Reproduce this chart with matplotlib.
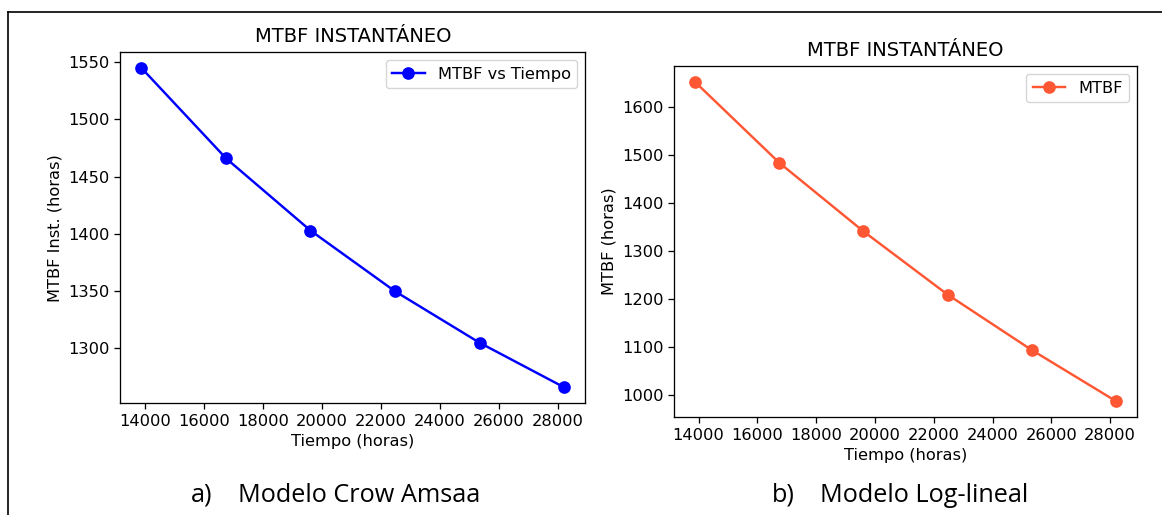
import matplotlib
matplotlib.use("Agg")
import matplotlib.pyplot as plt
from matplotlib.lines import Line2D

# ---------------- datos ----------------
tiempo_ca = [13880, 16750, 19610, 22470, 25340, 28210]
mtbf_ca   = [1545, 1466, 1403, 1350, 1305, 1266]

tiempo_ll = [13880, 16750, 19610, 22470, 25340, 28210]
mtbf_ll   = [1653, 1484, 1341, 1209, 1093, 986]

W, H = 1162, 515
k = 1.17  # escala respecto a los valores por defecto
plt.rcParams['font.size'] = 10*k
plt.rcParams['axes.linewidth'] = 0.8*k
plt.rcParams['xtick.major.size'] = 3.5*k
plt.rcParams['ytick.major.size'] = 3.5*k
plt.rcParams['xtick.major.width'] = 0.8*k
plt.rcParams['ytick.major.width'] = 0.8*k

fig = plt.figure(figsize=(W/100, H/100), dpi=100)

def caja(x0, y0, x1, y1):
    # pixeles (origen arriba-izquierda) -> fracciones de figura
    return [x0/W, 1-y1/H, (x1-x0)/W, (y1-y0)/H]

#--------------------------------------
ax1 = fig.add_axes(caja(120.3, 52, 585.3, 403.3))
ax1.plot(tiempo_ca, mtbf_ca, 'b-o', linewidth=1.5*k, markersize=8.1, label="MTBF vs Tiempo")
ax1.set_title("MTBF INSTANTÁNEO", fontsize=12*k, pad=6*k)
ax1.set_xlabel("Tiempo (horas)")
ax1.set_ylabel("MTBF Inst. (horas)")
ax1.set_xticks(range(14000, 28001, 2000))
ax1.legend(loc="upper right")

#--------------------------------------
ax2 = fig.add_axes(caja(674, 66, 1137.3, 417.3))
ax2.plot(tiempo_ll, mtbf_ll, '-o', color='#FF5733', linewidth=1.5*k, markersize=8.1, label="MTBF")
ax2.set_title("MTBF INSTANTÁNEO", fontsize=12*k, pad=6*k)
ax2.set_xlabel("Tiempo (horas)")
ax2.set_ylabel("MTBF (horas)")
ax2.set_xticks(range(14000, 28001, 2000))
ax2.legend(loc="upper right")

#-------------------------------------- leyendas del documento
fuente = dict(family=['Open Sans', 'DejaVu Sans'], fontsize=18.2, va='baseline')
fig.text(190.7/W, 1-501.7/H, "a)", **fuente)
fig.text(238.3/W, 1-501.7/H, "Modelo Crow Amsaa", **fuente)
fig.text(771.7/W, 1-501.7/H, "b)", **fuente)
fig.text(820/W, 1-501.7/H, "Modelo Log-lineal", **fuente)

# marco del documento
fig.add_artist(Line2D([8/W, 1], [1-12/H, 1-12/H], color='black', linewidth=1.2))
fig.add_artist(Line2D([8/W, 8/W], [0, 1-12/H], color='black', linewidth=1.2))

fig.savefig("out.png", dpi=100)
